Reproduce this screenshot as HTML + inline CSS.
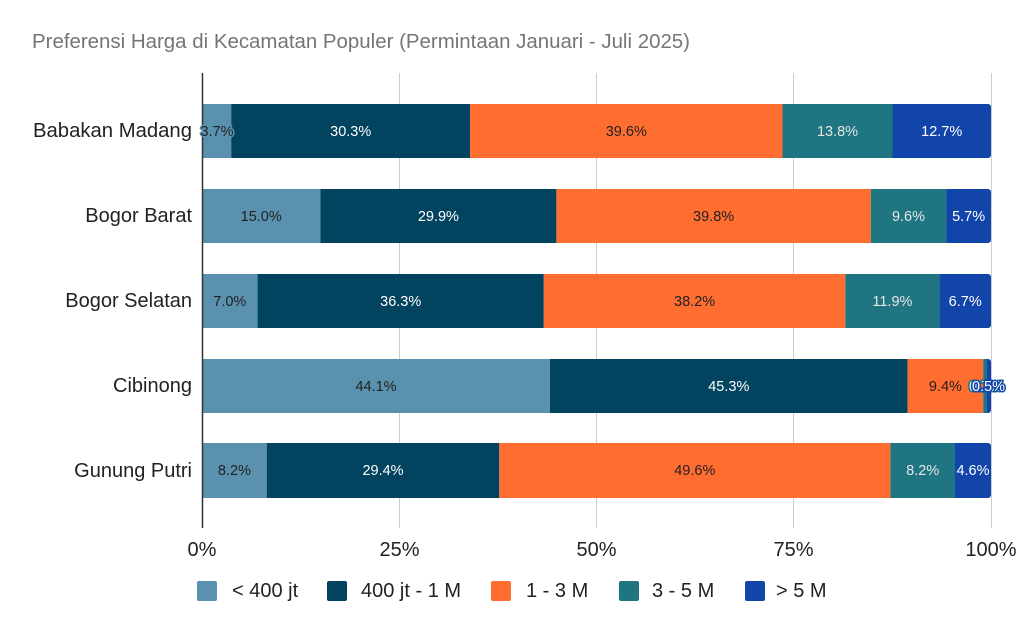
<!DOCTYPE html>
<html>
<head>
<meta charset="utf-8">
<style>
  html,body{margin:0;padding:0;background:#fff;}
  svg{display:block;}
  text{font-family:"Liberation Sans",Arial,sans-serif;}
  .cat{font-size:20px;fill:#222;text-anchor:end;}
  .tick{font-size:20px;fill:#222;text-anchor:middle;}
  .leg{font-size:20px;fill:#222;}
  .lbl{font-size:14.5px;text-anchor:middle;}
  .dk{fill:#222;}
  .wt{fill:#fff;}
  .lt{fill:#e6e6e6;}
</style>
</head>
<body>
<svg width="1024" height="633" viewBox="0 0 1024 633" xmlns="http://www.w3.org/2000/svg">
  <rect width="1024" height="633" fill="#fff"/>
  <!-- title -->
  <text x="32" y="48" font-size="20" fill="#757575" textLength="658" lengthAdjust="spacingAndGlyphs">Preferensi Harga di Kecamatan Populer (Permintaan Januari - Juli 2025)</text>

  <!-- gridlines -->
  <g stroke="#cccccc" stroke-width="1">
    <line x1="399.5" y1="73" x2="399.5" y2="528"/>
    <line x1="596.5" y1="73" x2="596.5" y2="528"/>
    <line x1="793.5" y1="73" x2="793.5" y2="528"/>
    <line x1="991.5" y1="73" x2="991.5" y2="528"/>
  </g>

  <defs>
    <clipPath id="r1"><rect x="150" y="104" width="841" height="54" rx="3"/></clipPath>
    <clipPath id="r2"><rect x="150" y="189" width="841" height="54" rx="3"/></clipPath>
    <clipPath id="r3"><rect x="150" y="274" width="841" height="54" rx="3"/></clipPath>
    <clipPath id="r4"><rect x="150" y="359" width="841" height="54" rx="3"/></clipPath>
    <clipPath id="r5"><rect x="150" y="443" width="841" height="55" rx="3"/></clipPath>
  </defs>

  <!-- Row 1: Babakan Madang -->
  <g clip-path="url(#r1)">
    <rect x="202" y="104" width="29.2" height="54" fill="#5a91ae"/>
    <rect x="231.2" y="104" width="239" height="54" fill="#02445f"/>
    <rect x="470.2" y="104" width="312.3" height="54" fill="#ff6d31"/>
    <rect x="782.5" y="104" width="110" height="54" fill="#1f7582"/>
    <rect x="892.5" y="104" width="98.5" height="54" fill="#1145aa"/>
  </g>
  <!-- Row 2: Bogor Barat -->
  <g clip-path="url(#r2)">
    <rect x="202" y="189" width="118.4" height="54" fill="#5a91ae"/>
    <rect x="320.4" y="189" width="236" height="54" fill="#02445f"/>
    <rect x="556.4" y="189" width="314.4" height="54" fill="#ff6d31"/>
    <rect x="870.8" y="189" width="75.4" height="54" fill="#1f7582"/>
    <rect x="946.2" y="189" width="44.8" height="54" fill="#1145aa"/>
  </g>
  <!-- Row 3: Bogor Selatan -->
  <g clip-path="url(#r3)">
    <rect x="202" y="274" width="55.6" height="54" fill="#5a91ae"/>
    <rect x="257.6" y="274" width="286.2" height="54" fill="#02445f"/>
    <rect x="543.8" y="274" width="301.6" height="54" fill="#ff6d31"/>
    <rect x="845.4" y="274" width="94" height="54" fill="#1f7582"/>
    <rect x="939.4" y="274" width="51.6" height="54" fill="#1145aa"/>
  </g>
  <!-- Row 4: Cibinong -->
  <g clip-path="url(#r4)">
    <rect x="202" y="359" width="348" height="54" fill="#5a91ae"/>
    <rect x="550" y="359" width="357.6" height="54" fill="#02445f"/>
    <rect x="907.6" y="359" width="75.6" height="54" fill="#ff6d31"/>
    <rect x="983.2" y="359" width="3.4" height="54" fill="#1f7582"/>
    <rect x="986.6" y="359" width="4.4" height="54" fill="#1145aa"/>
  </g>
  <!-- Row 5: Gunung Putri -->
  <g clip-path="url(#r5)">
    <rect x="202" y="443" width="64.7" height="55" fill="#5a91ae"/>
    <rect x="266.7" y="443" width="232.6" height="55" fill="#02445f"/>
    <rect x="499.3" y="443" width="391.1" height="55" fill="#ff6d31"/>
    <rect x="890.4" y="443" width="64.6" height="55" fill="#1f7582"/>
    <rect x="955" y="443" width="36" height="55" fill="#1145aa"/>
  </g>

  <!-- axis line -->
  <line x1="202.5" y1="73" x2="202.5" y2="528" stroke="#333" stroke-width="1.5"/>

  <!-- data labels -->
  <g class="lbl">
    <!-- row1 -->
    <text x="217" y="136" class="dk" stroke="#5a91ae" stroke-width="3" paint-order="stroke" stroke-linejoin="round">3.7%</text>
    <text x="350.7" y="136" class="wt">30.3%</text>
    <text x="626.3" y="136" class="dk">39.6%</text>
    <text x="837.5" y="136" class="lt">13.8%</text>
    <text x="941.7" y="136" class="wt">12.7%</text>
    <!-- row2 -->
    <text x="261.2" y="221" class="dk">15.0%</text>
    <text x="438.4" y="221" class="wt">29.9%</text>
    <text x="713.6" y="221" class="dk">39.8%</text>
    <text x="908.5" y="221" class="lt">9.6%</text>
    <text x="968.6" y="221" class="wt">5.7%</text>
    <!-- row3 -->
    <text x="229.8" y="306" class="dk">7.0%</text>
    <text x="400.7" y="306" class="wt">36.3%</text>
    <text x="694.6" y="306" class="dk">38.2%</text>
    <text x="892.4" y="306" class="lt">11.9%</text>
    <text x="965.2" y="306" class="wt">6.7%</text>
    <!-- row4 -->
    <text x="376" y="391" class="dk">44.1%</text>
    <text x="728.8" y="391" class="wt">45.3%</text>
    <text x="945.4" y="391" class="dk">9.4%</text>
    <text x="985.5" y="391" class="lt" stroke="#1f7582" stroke-width="3" paint-order="stroke" stroke-linejoin="round">0.7%</text>
    <text x="988.5" y="391" class="wt" stroke="#1145aa" stroke-width="3" paint-order="stroke" stroke-linejoin="round">0.5%</text>
    <!-- row5 -->
    <text x="234.4" y="475" class="dk">8.2%</text>
    <text x="383" y="475" class="wt">29.4%</text>
    <text x="694.8" y="475" class="dk">49.6%</text>
    <text x="922.7" y="475" class="lt">8.2%</text>
    <text x="973" y="475" class="wt">4.6%</text>
  </g>

  <!-- category labels -->
  <text class="cat" x="192" y="137" textLength="159" lengthAdjust="spacingAndGlyphs">Babakan Madang</text>
  <text class="cat" x="192" y="222">Bogor Barat</text>
  <text class="cat" x="192" y="307">Bogor Selatan</text>
  <text class="cat" x="192" y="392">Cibinong</text>
  <text class="cat" x="192" y="477">Gunung Putri</text>

  <!-- tick labels -->
  <text class="tick" x="202" y="556">0%</text>
  <text class="tick" x="399.5" y="556">25%</text>
  <text class="tick" x="596.5" y="556">50%</text>
  <text class="tick" x="793.5" y="556">75%</text>
  <text class="tick" x="991" y="556">100%</text>

  <!-- legend -->
  <rect x="197" y="581" width="20" height="20" rx="2" fill="#5a91ae"/>
  <text class="leg" x="232" y="597">&lt; 400 jt</text>
  <rect x="327" y="581" width="20" height="20" rx="2" fill="#02445f"/>
  <text class="leg" x="361" y="597">400 jt - 1 M</text>
  <rect x="491" y="581" width="20" height="20" rx="2" fill="#ff6d31"/>
  <text class="leg" x="526" y="597">1 - 3 M</text>
  <rect x="619" y="581" width="20" height="20" rx="2" fill="#1f7582"/>
  <text class="leg" x="652" y="597">3 - 5 M</text>
  <rect x="745" y="581" width="20" height="20" rx="2" fill="#1145aa"/>
  <text class="leg" x="776" y="597">&gt; 5 M</text>
</svg>
</body>
</html>
